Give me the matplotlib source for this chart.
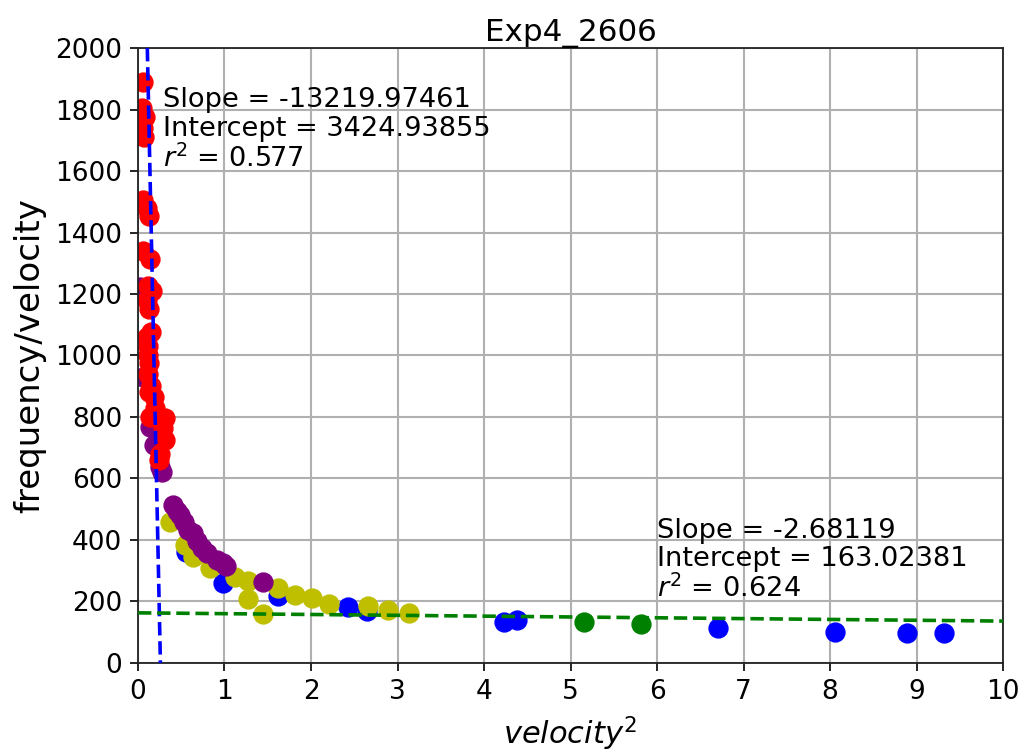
import numpy as np
import matplotlib
matplotlib.use("Agg")
import matplotlib.pyplot as plt

# Measured points, grouped by run
red_x = [0.06, 0.05, 0.08, 0.06, 0.07, 0.06, 0.10, 0.13, 0.06, 0.14,
         0.12, 0.16, 0.10, 0.13, 0.15, 0.10, 0.12, 0.11, 0.13, 0.12,
         0.15, 0.13, 0.18, 0.20, 0.14, 0.31, 0.29, 0.31, 0.25, 0.24]
red_y = [1890, 1805, 1775, 1740, 1710, 1505, 1480, 1455, 1340, 1315,
         1225, 1210, 1180, 1150, 1075, 1060, 1030, 1000, 975, 940,
         900, 880, 865, 829, 800, 797, 764, 725, 680, 660]

purple_x = [0.02, 0.06, 0.14, 0.18, 0.26, 0.28, 0.40, 0.45, 0.49, 0.53,
            0.58, 0.64, 0.68, 0.74, 0.80, 0.91, 0.98, 1.02, 1.45]
purple_y = [1223, 930, 767, 709, 637, 621, 514, 495, 481, 460,
            432, 423, 398, 374, 358, 335, 325, 315, 263]

yellow_x = [0.37, 0.54, 0.64, 0.83, 1.12, 1.27, 1.27, 1.44, 1.62, 1.82,
            2.01, 2.21, 2.66, 2.89, 3.13]
yellow_y = [459, 384, 345, 309, 280, 265, 208, 159, 244, 221,
            211, 193, 185, 172, 163]

blue_x = [0.55, 0.98, 1.62, 2.43, 2.65, 4.23, 4.38, 6.71, 8.06, 8.89, 9.32]
blue_y = [361, 260, 218, 182, 170, 134, 140, 113, 102, 99, 99]

green_x = [5.16, 5.82]
green_y = [134, 127]

# Linear fits
fit1_slope, fit1_intercept, fit1_r2 = -13219.97461, 3424.93855, 0.577
fit2_slope, fit2_intercept, fit2_r2 = -2.68119, 163.02381, 0.624

x_ticks = list(range(0, 11))
y_ticks = list(range(0, 2001, 200))

fig = plt.figure(figsize=(10.26, 7.55), dpi=100)
ax = fig.add_axes([0.1345, 0.1219, 0.8431, 0.8145])

ms = 185
ax.scatter(blue_x, blue_y, s=ms, color="blue", zorder=2)
ax.scatter(green_x, green_y, s=ms, color="green", zorder=2)
ax.scatter(yellow_x, yellow_y, s=ms, color="y", zorder=2)
ax.scatter(purple_x, purple_y, s=ms, color="purple", zorder=2)
ax.scatter(red_x, red_y, s=ms, color="red", zorder=2)

# steep fit, drawn across the visible y range
x1 = np.array([(fit1_intercept - 2000) / -fit1_slope,
               fit1_intercept / -fit1_slope])
ax.plot(x1, fit1_slope * x1 + fit1_intercept, "b--", lw=2.6, zorder=3)

x2 = np.array([0, 10])
ax.plot(x2, fit2_slope * x2 + fit2_intercept, "g--", lw=2.6, zorder=3)

fs_txt = 19.6
ax.text(0.29, 1872, f"Slope = {fit1_slope:.5f}\nIntercept = {fit1_intercept:.5f}\n$r^2$ = {fit1_r2:.3f}",
        fontsize=fs_txt, va="top", ha="left", linespacing=1.12)
ax.text(6.0, 472, f"Slope = {fit2_slope:.5f}\nIntercept = {fit2_intercept:.5f}\n$r^2$ = {fit2_r2:.3f}",
        fontsize=fs_txt, va="top", ha="left", linespacing=1.12)

ax.set_xlim(0, 10)
ax.set_ylim(0, 2000)
ax.set_xticks(x_ticks)
ax.set_yticks(y_ticks)
ax.tick_params(labelsize=19, length=5.5, width=1.2, pad=6)
ax.grid(True, color="#b0b0b0", lw=1.5, zorder=0)
ax.set_axisbelow(True)
for sp in ax.spines.values():
    sp.set_linewidth(1.3)
    sp.set_color("#222222")

ax.set_title("Exp4_2606", fontsize=22.3, pad=5)
ax.set_xlabel("$velocity^2$", fontsize=22, labelpad=7)
ax.set_ylabel("frequency/velocity", fontsize=24.5, labelpad=6)

fig.savefig("out.png", dpi=100)
